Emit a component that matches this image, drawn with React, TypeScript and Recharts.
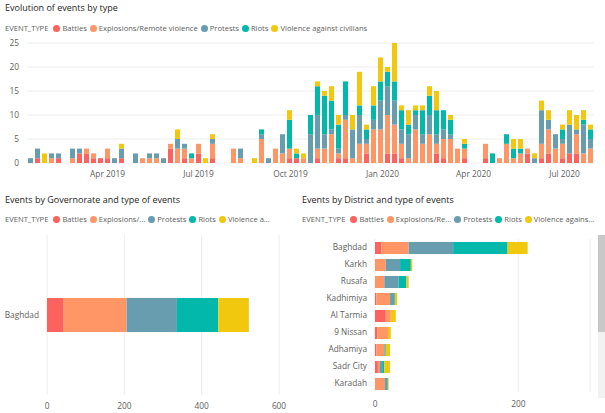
import React from "react";
import { BarChart, Bar, XAxis, YAxis, CartesianGrid } from "recharts";

// event types and their colours
const eventTypes = ["Battles", "Explosions/Remote violence", "Protests", "Riots", "Violence against civilians"];
const typeKeys = ["battles", "explosions", "protests", "riots", "violence"];
const typeColors = ["#FD625E", "#FE9666", "#689DAF", "#01B8AA", "#F2C80F"];

// weekly counts, first week starting 14 Jan 2019
const battles = [
  0, 1, 0, 0, 1, 0, 0, 2, 2, 1,
  1, 1, 0, 1, 0, 0, 0, 0, 0, 0,
  3, 0, 1, 0, 2, 0, 1, 0, 0, 0,
  0, 0, 0, 0, 0, 0, 0, 1, 1, 0,
  0, 1, 0, 0, 1, 1, 0, 0, 2, 0,
  0, 2, 2, 1, 0, 0, 0, 0, 2, 1,
  0, 0, 1, 0, 0, 1, 0, 0, 0, 0,
  0, 2, 0, 1, 2, 0, 1, 2, 2, 0,
  0,
];
const explosions = [
  0, 0, 0, 1, 0, 0, 1, 0, 1, 1,
  0, 2, 0, 0, 0, 0, 1, 1, 1, 0,
  1, 3, 2, 1, 2, 0, 3, 0, 0, 3,
  1, 0, 0, 5, 0, 3, 2, 2, 0, 1,
  0, 2, 3, 6, 1, 8, 1, 4, 2, 7,
  7, 8, 6, 3, 1, 7, 4, 6, 2, 4,
  5, 3, 2, 0, 0, 3, 0, 1, 4, 1,
  2, 1, 0, 3, 5, 3, 3, 0, 4, 2,
  3,
];
const protests = [
  1, 2, 0, 1, 1, 0, 2, 1, 0, 0,
  0, 0, 1, 2, 0, 2, 0, 1, 1, 1,
  0, 2, 1, 0, 0, 0, 1, 0, 0, 0,
  2, 0, 0, 1, 1, 0, 4, 0, 0, 0,
  6, 7, 3, 1, 1, 1, 6, 6, 1, 2,
  6, 6, 5, 3, 5, 3, 2, 4, 2, 2,
  1, 0, 0, 0, 0, 0, 0, 0, 0, 0,
  0, 0, 1, 7, 2, 3, 1, 6, 1, 6,
  2,
];
const riots = [
  0, 0, 0, 0, 0, 0, 0, 0, 0, 0,
  0, 0, 0, 0, 0, 0, 0, 0, 0, 0,
  0, 0, 0, 1, 0, 0, 0, 0, 0, 0,
  0, 0, 0, 1, 0, 0, 0, 6, 1, 0,
  4, 6, 8, 6, 5, 7, 0, 2, 2, 3,
  4, 3, 4, 4, 2, 1, 5, 4, 5, 4,
  3, 0, 1, 0, 0, 0, 2, 0, 2, 2,
  1, 0, 0, 0, 0, 0, 2, 0, 0, 1,
  2,
];
const violence = [
  0, 0, 2, 0, 0, 0, 0, 0, 0, 0,
  0, 0, 0, 1, 0, 0, 0, 0, 0, 0,
  0, 2, 0, 0, 0, 1, 1, 0, 0, 0,
  0, 0, 1, 0, 0, 0, 0, 2, 1, 1,
  0, 1, 1, 3, 2, 0, 3, 7, 1, 4,
  5, 1, 8, 1, 3, 1, 1, 2, 4, 0,
  1, 0, 1, 0, 0, 0, 0, 0, 0, 2,
  2, 0, 1, 2, 2, 0, 1, 3, 3, 2,
  1,
];

const yTicks = [0, 5, 10, 15, 20, 25];
const monthNames = ["Jan", "Feb", "Mar", "Apr", "May", "Jun", "Jul", "Aug", "Sep", "Oct", "Nov", "Dec"];
const dateTicks = [
  Date.UTC(2019, 3, 1),
  Date.UTC(2019, 6, 1),
  Date.UTC(2019, 9, 1),
  Date.UTC(2020, 0, 1),
  Date.UTC(2020, 3, 1),
  Date.UTC(2020, 6, 1),
];

// governorate totals
const governorates = ["Baghdad"];
const govBattles = [43];
const govExplosions = [163];
const govProtests = [130];
const govRiots = [107];
const govViolence = [79];
const govTicks = [0, 200, 400, 600];

// district totals
const districts = ["Baghdad", "Karkh", "Rusafa", "Kadhimiya", "Al Tarmia", "9 Nissan", "Adhamiya", "Sadr City", "Karadah"];
const distBattles = [9, 0, 0, 2, 15, 3, 2, 4, 0];
const distExplosions = [38, 15, 13, 19, 7, 15, 11, 3, 14];
const distProtests = [62, 20, 20, 6, 0, 0, 1, 3, 3];
const distRiots = [76, 15, 11, 1, 0, 0, 1, 3, 1];
const distViolence = [28, 2, 3, 3, 7, 4, 6, 8, 1];
const distTicks = [0, 200];

const DAY = 86400000;
const firstWeek = Date.UTC(2019, 0, 14);
const weekly = battles.map((b, i) => ({
  t: firstWeek + i * 7 * DAY,
  battles: b,
  explosions: explosions[i],
  protests: protests[i],
  riots: riots[i],
  violence: violence[i],
}));
const govData = governorates.map((g, i) => ({
  name: g,
  battles: govBattles[i],
  explosions: govExplosions[i],
  protests: govProtests[i],
  riots: govRiots[i],
  violence: govViolence[i],
}));
const distData = districts.map((d, i) => ({
  name: d,
  battles: distBattles[i],
  explosions: distExplosions[i],
  protests: distProtests[i],
  riots: distRiots[i],
  violence: distViolence[i],
}));

const FONT = '"Segoe UI", "Open Sans", sans-serif';
const tickStyle = { fontSize: 8.3, fill: "#605E5C", fontFamily: FONT };
const gridColor = "#EDEDED";

function Title({ text, left, top }: { text: string; left: number; top: number }) {
  return (
    <div style={{ position: "absolute", left, top, fontSize: 9, color: "#252423", fontFamily: FONT, whiteSpace: "nowrap" }}>
      {text}
    </div>
  );
}

function TypeLegend({ labels, left, top }: { labels: string[]; left: number; top: number }) {
  return (
    <div
      style={{
        position: "absolute",
        left,
        top,
        display: "flex",
        alignItems: "center",
        fontSize: 7.6,
        color: "#605E5C",
        fontFamily: FONT,
        whiteSpace: "nowrap",
      }}
    >
      <span style={{ marginRight: 5 }}>EVENT_TYPE</span>
      {labels.map((l, i) => (
        <span key={l} style={{ display: "flex", alignItems: "center", marginRight: 3 }}>
          <span style={{ width: 7, height: 7, borderRadius: 4, background: typeColors[i], marginRight: 2 }} />
          {l}
        </span>
      ))}
    </div>
  );
}

function fmtDate(v: number) {
  const d = new Date(v);
  return `${monthNames[d.getUTCMonth()]} ${d.getUTCFullYear()}`;
}

export default function App() {
  return (
    <div style={{ position: "relative", width: 605, height: 413, background: "#fff", overflow: "hidden" }}>
      <style>{"body{margin:0}"}</style>

      <Title text="Evolution of events by type" left={5} top={1} />
      <TypeLegend labels={eventTypes} left={5} top={23} />
      <div style={{ position: "absolute", left: 0, top: 0 }}>
        <BarChart width={605} height={185} data={weekly} margin={{ top: 43, right: 11, left: 0, bottom: 0 }}>
          <CartesianGrid vertical={false} stroke={gridColor} />
          <XAxis
            dataKey="t"
            type="number"
            scale="time"
            domain={[firstWeek - 3.5 * DAY, firstWeek + 80 * 7 * DAY + 3.5 * DAY]}
            ticks={dateTicks}
            tickFormatter={fmtDate}
            axisLine={false}
            tickLine={false}
            tick={tickStyle}
            height={22}
            tickMargin={2}
          />
          <YAxis
            domain={[0, 25]}
            ticks={yTicks}
            axisLine={false}
            tickLine={false}
            tick={tickStyle}
            width={27}
            interval={0}
          />
          {typeKeys.map((k, i) => (
            <Bar key={k} dataKey={k} stackId="a" fill={typeColors[i]} barSize={5} isAnimationActive={false} />
          ))}
        </BarChart>
      </div>

      <Title text="Events by Governorate and type of events" left={5} top={193} />
      <TypeLegend labels={["Battles", "Explosions/...", "Protests", "Riots", "Violence a..."]} left={5} top={214} />
      <div style={{ position: "absolute", left: 0, top: 185 }}>
        <BarChart width={300} height={228} data={govData} layout="vertical" margin={{ top: 50, right: 21, left: 0, bottom: 0 }}>
          <CartesianGrid horizontal={false} stroke={gridColor} />
          <XAxis
            type="number"
            domain={[0, 600]}
            ticks={govTicks}
            axisLine={false}
            tickLine={false}
            tick={tickStyle}
            height={18}
            tickMargin={2}
            interval={0}
          />
          <YAxis type="category" dataKey="name" axisLine={false} tickLine={false} tick={tickStyle} width={47} />
          {typeKeys.map((k, i) => (
            <Bar key={k} dataKey={k} stackId="g" fill={typeColors[i]} barSize={34} isAnimationActive={false} />
          ))}
        </BarChart>
      </div>

      <Title text="Events by District and type of events" left={302} top={193} />
      <TypeLegend labels={["Battles", "Explosions/Re...", "Protests", "Riots", "Violence agains..."]} left={302} top={214} />
      <div style={{ position: "absolute", left: 300, top: 185 }}>
        <BarChart width={305} height={228} data={distData} layout="vertical" margin={{ top: 54, right: 15, left: 0, bottom: 2 }}>
          <CartesianGrid horizontal={false} stroke={gridColor} />
          <XAxis
            type="number"
            domain={[0, 300]}
            ticks={distTicks}
            axisLine={false}
            tickLine={false}
            tick={tickStyle}
            height={19}
            tickMargin={3}
            interval={0}
          />
          <YAxis type="category" dataKey="name" axisLine={false} tickLine={false} tick={tickStyle} width={75} interval={0} />
          {typeKeys.map((k, i) => (
            <Bar key={k} dataKey={k} stackId="d" fill={typeColors[i]} barSize={12} isAnimationActive={false} />
          ))}
        </BarChart>
      </div>

      {/* scrollbar of the district list */}
      <div style={{ position: "absolute", left: 598, top: 235, width: 7, height: 163, background: "#F2F2F2" }} />
      <div style={{ position: "absolute", left: 598, top: 235, width: 7, height: 97, background: "#C8C8C8" }} />
    </div>
  );
}
